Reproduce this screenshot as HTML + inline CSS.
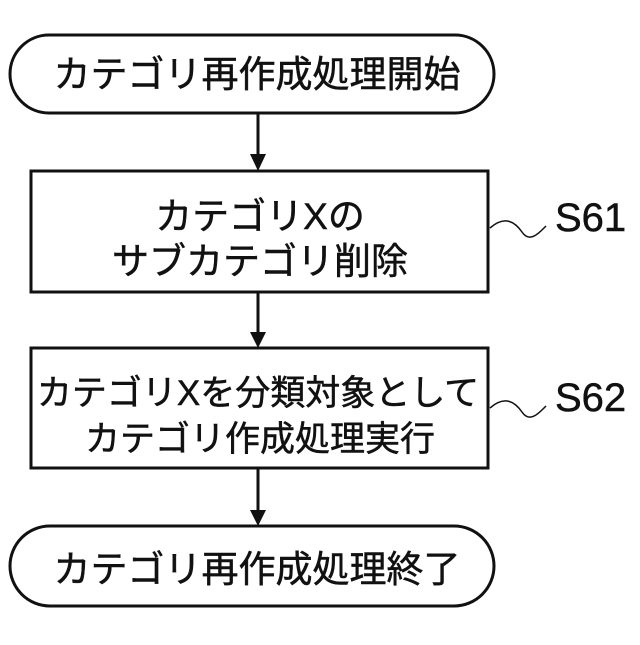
<!DOCTYPE html>
<html><head><meta charset="utf-8"><style>
body{margin:0;background:#fff}
text{font-family:"Liberation Sans","Noto Sans CJK JP",sans-serif;fill:#111;stroke:#111;stroke-width:0.5}
</style></head><body>
<svg width="640" height="640" viewBox="0 0 640 640" xmlns="http://www.w3.org/2000/svg">
<g stroke="#111" stroke-width="3" fill="none">
<rect x="10" y="35" width="484" height="78" rx="39"/>
<rect x="31" y="171" width="457" height="121"/>
<rect x="31" y="348" width="457" height="120"/>
<rect x="10" y="526" width="484" height="80" rx="40"/>
<line x1="258" y1="113" x2="258" y2="155"/>
<line x1="258" y1="292" x2="258" y2="333"/>
<line x1="258" y1="468" x2="258" y2="511"/>
<path stroke-width="1.5" d="M490 228 C505 215,515 222,522 232 C530 244,540 232,546 226"/>
<path stroke-width="1.5" d="M490 408 C505 395,515 402,522 412 C530 424,540 412,546 406"/>
</g>
<g fill="#111">
<polygon points="250,154 266,154 258,171"/>
<polygon points="250,332 266,332 258,348"/>
<polygon points="250,510 266,510 258,526"/>
</g>
<g font-size="37" text-anchor="middle">
<text x="257" y="87">カテゴリ再作成処理開始</text>
<text x="260" y="229">カテゴリXの</text>
<text x="260" y="274">サブカテゴリ削除</text>
<text x="257" y="582">カテゴリ再作成処理終了</text>
</g>
<g font-size="35" text-anchor="middle">
<text x="258" y="405">カテゴリXを分類対象として</text>
<text x="260" y="451">カテゴリ作成処理実行</text>
</g>
<g font-size="40">
<text x="555" y="231">S61</text>
<text x="555" y="411">S62</text>
</g>
</svg>
</body></html>
